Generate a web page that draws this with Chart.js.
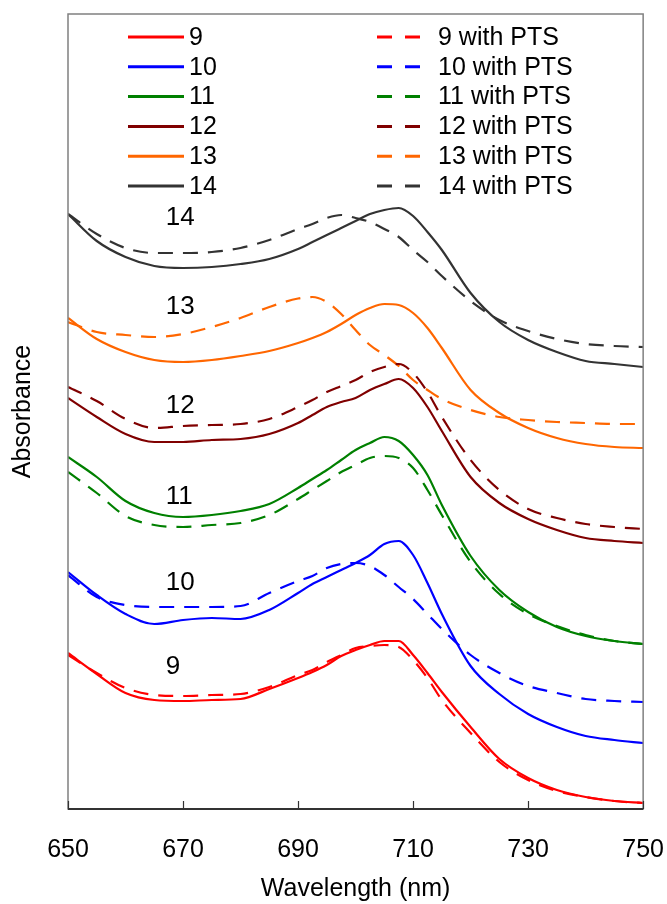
<!DOCTYPE html>
<html>
<head>
<meta charset="utf-8">
<script src="https://cdn.jsdelivr.net/npm/chart.js@4"></script>
<style>
  body { margin: 0; background: #fff; }
  #wrap { width: 667px; height: 904px; }
</style>
</head>
<body>
<div id="wrap"><canvas id="chart" width="667" height="904"></canvas></div>
<script>
// Absorbance spectra (arbitrary offset units)
const wavelengths = [650, 655, 660, 665, 670, 675, 680, 685, 690, 692.5, 695, 697.5, 700,
  702.5, 705, 707.5, 710, 712.5, 715, 720, 725, 730, 735, 740, 745, 750];
const xTicks = [650, 670, 690, 710, 730, 750];

const s9 = [0.312, 0.270, 0.232, 0.218, 0.216, 0.218, 0.220, 0.240, 0.262, 0.274, 0.288, 0.306, 0.318,
  0.328, 0.336, 0.336, 0.308, 0.272, 0.234, 0.164, 0.100, 0.062, 0.038, 0.024, 0.016, 0.012];
const s9pts = [0.308, 0.272, 0.242, 0.228, 0.226, 0.228, 0.230, 0.244, 0.268, 0.278, 0.294, 0.308, 0.322,
  0.326, 0.328, 0.324, 0.298, 0.262, 0.218, 0.152, 0.094, 0.058, 0.036, 0.024, 0.016, 0.012];
const s10 = [0.474, 0.428, 0.390, 0.370, 0.378, 0.382, 0.380, 0.398, 0.432, 0.450, 0.464, 0.478, 0.492,
  0.508, 0.530, 0.536, 0.508, 0.452, 0.390, 0.286, 0.230, 0.190, 0.164, 0.146, 0.138, 0.132];
const s10pts = [0.468, 0.424, 0.408, 0.404, 0.404, 0.404, 0.406, 0.432, 0.456, 0.466, 0.482, 0.490, 0.492,
  0.486, 0.468, 0.444, 0.420, 0.390, 0.360, 0.308, 0.272, 0.246, 0.232, 0.220, 0.216, 0.214];
const s11 = [0.704, 0.664, 0.616, 0.592, 0.584, 0.588, 0.596, 0.610, 0.642, 0.660, 0.678, 0.698, 0.718,
  0.732, 0.744, 0.736, 0.708, 0.668, 0.608, 0.506, 0.438, 0.394, 0.364, 0.346, 0.336, 0.330];
const s11pts = [0.674, 0.632, 0.586, 0.568, 0.564, 0.568, 0.572, 0.588, 0.620, 0.638, 0.656, 0.674, 0.688,
  0.702, 0.706, 0.702, 0.682, 0.638, 0.588, 0.494, 0.430, 0.390, 0.366, 0.348, 0.336, 0.330];
const s12 = [0.822, 0.784, 0.750, 0.734, 0.734, 0.738, 0.740, 0.750, 0.772, 0.788, 0.804, 0.814, 0.822,
  0.838, 0.850, 0.860, 0.842, 0.804, 0.756, 0.664, 0.612, 0.580, 0.558, 0.542, 0.536, 0.532];
const s12pts = [0.844, 0.816, 0.780, 0.762, 0.766, 0.768, 0.770, 0.780, 0.804, 0.818, 0.834, 0.846, 0.858,
  0.874, 0.884, 0.890, 0.872, 0.834, 0.784, 0.698, 0.638, 0.600, 0.582, 0.570, 0.564, 0.560];
const s13 = [0.982, 0.940, 0.914, 0.898, 0.894, 0.898, 0.906, 0.916, 0.932, 0.942, 0.954, 0.970, 0.988,
  1.002, 1.010, 1.008, 0.992, 0.962, 0.922, 0.838, 0.792, 0.762, 0.742, 0.730, 0.724, 0.722];
const s13pts = [0.974, 0.954, 0.948, 0.944, 0.950, 0.964, 0.982, 1.004, 1.021, 1.024, 1.014, 0.990, 0.958,
  0.928, 0.908, 0.886, 0.858, 0.838, 0.820, 0.798, 0.784, 0.778, 0.774, 0.772, 0.770, 0.770];
const s14 = [1.190, 1.136, 1.104, 1.086, 1.082, 1.084, 1.090, 1.100, 1.120, 1.134, 1.148, 1.162, 1.176,
  1.190, 1.198, 1.202, 1.186, 1.154, 1.118, 1.032, 0.974, 0.938, 0.914, 0.896, 0.890, 0.884];
const s14pts = [1.190, 1.150, 1.122, 1.112, 1.112, 1.114, 1.122, 1.138, 1.160, 1.170, 1.182, 1.188, 1.182,
  1.174, 1.160, 1.144, 1.118, 1.094, 1.066, 1.016, 0.978, 0.956, 0.940, 0.930, 0.926, 0.924];

const sampleNames = ['9', '10', '11', '12', '13', '14'];
const solidSeries = [s9, s10, s11, s12, s13, s14];
const ptsSeries = [s9pts, s10pts, s11pts, s12pts, s13pts, s14pts];
const colors = ['#ff0000', '#0000ff', '#008000', '#800000', '#ff6600', '#333333'];

// curve labels sit at 667 nm, at these absorbance levels
const labelWavelength = 667;
const labelLevels = [0.284, 0.452, 0.624, 0.806, 1.004, 1.182];

const FONT = "'Liberation Sans', Arial, sans-serif";

function toPoints(values) {
  return values.map((v, i) => ({ x: wavelengths[i], y: v }));
}

const datasets = [];
sampleNames.forEach((name, i) => {
  datasets.push({
    label: name,
    data: toPoints(solidSeries[i]),
    borderColor: colors[i],
    borderWidth: 2.2,
    pointRadius: 0,
    cubicInterpolationMode: 'monotone',
    sampleRow: i
  });
  datasets.push({
    label: name + ' with PTS',
    data: toPoints(ptsSeries[i]),
    borderColor: colors[i],
    borderWidth: 2.2,
    borderDash: [15, 10],
    pointRadius: 0,
    cubicInterpolationMode: 'monotone',
    sampleRow: i
  });
});

// Box frame + inward x ticks
const framePlugin = {
  id: 'frame',
  afterDraw(chart) {
    const { ctx, chartArea: a, scales } = chart;
    ctx.save();
    ctx.strokeStyle = '#808080';
    ctx.lineWidth = 1.5;
    ctx.strokeRect(a.left, a.top, a.right - a.left, a.bottom - a.top);
    ctx.strokeStyle = '#333333';
    ctx.lineWidth = 2;
    ctx.beginPath();
    ctx.moveTo(a.left, a.bottom);
    ctx.lineTo(a.right, a.bottom);
    ctx.stroke();
    ctx.lineWidth = 1.2;
    xTicks.forEach(t => {
      const x = Math.round(scales.x.getPixelForValue(t)) + 0.5;
      ctx.beginPath();
      ctx.moveTo(x, a.bottom);
      ctx.lineTo(x, a.bottom - 8);
      ctx.stroke();
    });
    ctx.restore();
  }
};

// Numbers beside each pair of curves
const curveLabelPlugin = {
  id: 'curveLabels',
  afterDatasetsDraw(chart) {
    const { ctx, scales } = chart;
    ctx.save();
    ctx.fillStyle = '#000';
    ctx.font = '26px ' + FONT;
    ctx.textAlign = 'left';
    ctx.textBaseline = 'middle';
    sampleNames.forEach((name, i) => {
      ctx.fillText(name, scales.x.getPixelForValue(labelWavelength), scales.y.getPixelForValue(labelLevels[i]));
    });
    ctx.restore();
  }
};

// Two-column legend inside the plot (solid left, dashed right)
const pairLegendPlugin = {
  id: 'pairLegend',
  afterDraw(chart) {
    const { ctx } = chart;
    ctx.save();
    ctx.font = '25px ' + FONT;
    ctx.textBaseline = 'middle';
    ctx.textAlign = 'left';
    chart.data.datasets.forEach(ds => {
      const dashed = !!ds.borderDash;
      const y = 37 + ds.sampleRow * 29.8;
      const x0 = dashed ? 377 : 128;
      const x1 = dashed ? 424 : 184;
      ctx.strokeStyle = ds.borderColor;
      ctx.lineWidth = 3;
      ctx.setLineDash(dashed ? [15, 13] : []);
      ctx.beginPath();
      ctx.moveTo(x0, y);
      ctx.lineTo(x1, y);
      ctx.stroke();
      ctx.setLineDash([]);
      ctx.fillStyle = '#000';
      ctx.fillText(ds.label, dashed ? 438 : 189, y + 1);
    });
    ctx.restore();
  }
};

new Chart(document.getElementById('chart'), {
  type: 'line',
  data: { datasets },
  options: {
    responsive: false,
    devicePixelRatio: 1,
    animation: false,
    layout: { padding: { left: 8, right: 0, top: 14, bottom: 0 } },
    plugins: {
      legend: { display: false },
      tooltip: { enabled: false }
    },
    scales: {
      x: {
        type: 'linear',
        min: 650,
        max: 750,
        grid: { display: false, drawTicks: true, tickLength: 23 },
        border: { display: false },
        ticks: {
          stepSize: 20,
          padding: 3,
          color: '#000',
          font: { family: FONT, size: 25 }
        },
        title: {
          display: true,
          text: 'Wavelength (nm)',
          color: '#000',
          font: { family: FONT, size: 25 },
          padding: { top: 6, bottom: 0 }
        }
      },
      y: {
        min: 0,
        max: 1.59,
        grid: { display: false, drawTicks: false },
        border: { display: false },
        ticks: { display: false },
        title: {
          display: true,
          text: 'Absorbance',
          color: '#000',
          font: { family: FONT, size: 25 },
          padding: { top: 0, bottom: 30 }
        }
      }
    }
  },
  plugins: [framePlugin, curveLabelPlugin, pairLegendPlugin]
});
</script>
</body>
</html>
